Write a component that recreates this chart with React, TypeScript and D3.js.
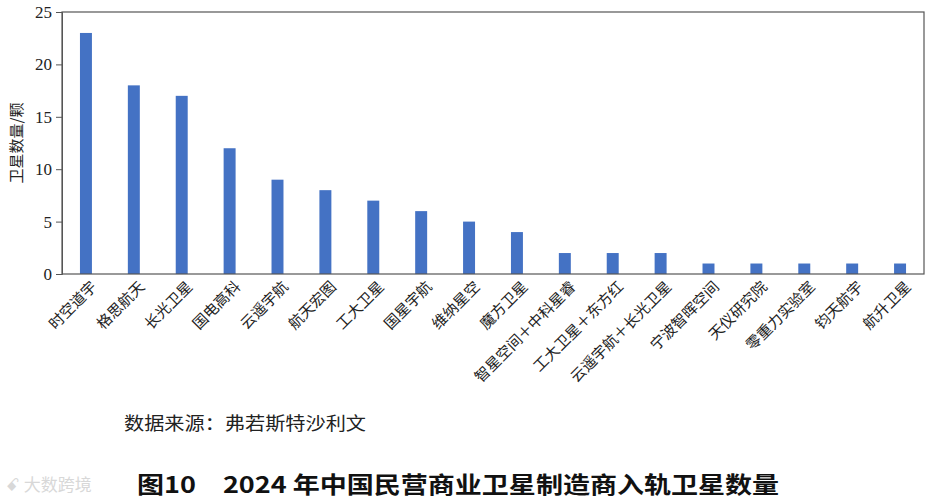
import { useEffect, useRef } from "react";
import * as d3 from "d3";

const categories = [
  "时空道宇",
  "格思航天",
  "长光卫星",
  "国电高科",
  "云遥宇航",
  "航天宏图",
  "工大卫星",
  "国星宇航",
  "维纳星空",
  "魔方卫星",
  "智星空间＋中科星睿",
  "工大卫星＋东方红",
  "云遥宇航＋长光卫星",
  "宁波智晖空间",
  "天仪研究院",
  "零重力实验室",
  "钧天航宇",
  "航升卫星",
];
const satellites = [23, 18, 17, 12, 9, 8, 7, 6, 5, 4, 2, 2, 2, 1, 1, 1, 1, 1];
const yTicks = [0, 5, 10, 15, 20, 25];

const W = 935;
const H = 501;
const margin = { top: 12, right: 11, bottom: 227, left: 62 };
const sans = "'Noto Sans CJK SC', 'Noto Sans', sans-serif";
const serif = "'Liberation Serif', 'DejaVu Serif', serif";

export default function App() {
  const svgRef = useRef<SVGSVGElement | null>(null);

  useEffect(() => {
    if (!svgRef.current) return;
    const svg = d3.select(svgRef.current);
    svg.selectAll("*").remove();

    const innerW = W - margin.left - margin.right;
    const innerH = H - margin.top - margin.bottom;

    const x = d3.scaleBand<string>().domain(categories).range([0, innerW]).paddingInner(0.75).paddingOuter(0.375);
    const y = d3.scaleLinear().domain([0, 25]).range([innerH, 0]);

    const g = svg.append("g").attr("transform", `translate(${margin.left},${margin.top})`);

    g.selectAll("rect.bar")
      .data(categories)
      .join("rect")
      .attr("class", "bar")
      .attr("x", (d) => x(d)!)
      .attr("y", (_, i) => y(satellites[i]))
      .attr("width", x.bandwidth())
      .attr("height", (_, i) => innerH - y(satellites[i]))
      .attr("fill", "#4472c4");

    // frame
    g.append("rect")
      .attr("x", 0)
      .attr("y", 0)
      .attr("width", innerW)
      .attr("height", innerH)
      .attr("fill", "none")
      .attr("stroke", "#555")
      .attr("stroke-width", 1.2);

    const yAxis = g.append("g").call(d3.axisLeft(y).tickValues(yTicks).tickSize(6).tickPadding(4));
    yAxis.select(".domain").attr("stroke", "#555");
    yAxis.selectAll("line").attr("stroke", "#555");
    yAxis
      .selectAll("text")
      .attr("fill", "#222")
      .style("font-family", serif)
      .style("font-size", "17px");

    // category labels
    g.selectAll("text.cat")
      .data(categories)
      .join("text")
      .attr("class", "cat")
      .attr(
        "transform",
        (d) => `translate(${x(d)! + x.bandwidth() / 2 + 8},${innerH + 10}) rotate(-45)`
      )
      .attr("text-anchor", "end")
      .attr("dy", "0.35em")
      .attr("fill", "#222")
      .style("font-family", sans)
      .style("font-size", "15px")
      .text((d) => d);

    svg
      .append("text")
      .attr("transform", `translate(22,${margin.top + innerH / 2}) rotate(-90)`)
      .attr("text-anchor", "middle")
      .attr("fill", "#222")
      .style("font-family", sans)
      .style("font-size", "15px")
      .text("卫星数量/颗");

    svg
      .append("text")
      .attr("x", 124)
      .attr("y", 430)
      .attr("fill", "#222")
      .style("font-family", sans)
      .style("font-size", "18px")
      .attr("textLength", 242)
      .attr("lengthAdjust", "spacingAndGlyphs")
      .text("数据来源：弗若斯特沙利文");

    svg
      .append("text")
      .attr("x", 6)
      .attr("y", 491)
      .attr("fill", "#d8d8d8")
      .style("font-family", sans)
      .style("font-size", "17px")
      .text("ꗃ 大数跨境");

    svg
      .append("text")
      .attr("x", 137)
      .attr("y", 493)
      .attr("fill", "#111")
      .style("font-family", sans)
      .style("font-size", "23px")
      .style("font-weight", "bold")
      .attr("textLength", 642)
      .attr("lengthAdjust", "spacingAndGlyphs")
      .text("图10　2024 年中国民营商业卫星制造商入轨卫星数量");
  }, []);

  return (
    <svg
      ref={svgRef}
      width={W}
      height={H}
      viewBox={`0 0 ${W} ${H}`}
      style={{ position: "absolute", left: 0, top: 0, background: "#fff" }}
    />
  );
}
